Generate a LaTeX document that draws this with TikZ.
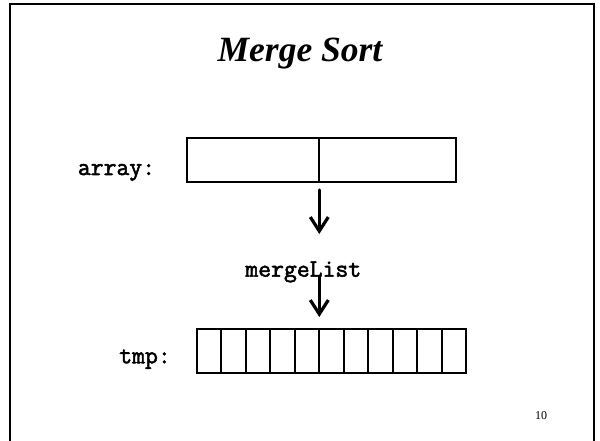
\documentclass[tikz,border=0pt]{standalone}
\usepackage{fontspec}
\setmainfont{Liberation Serif}
\newfontfamily\codefont[FakeBold=2.2]{Latin Modern Mono}
\usetikzlibrary{arrows.meta}
\tikzset{
  cell/.style={draw, line width=2pt, minimum height=44pt, inner sep=0pt, outer sep=0pt},
  lcell/.style={cell, minimum width=132.6pt},
  rcell/.style={cell, minimum width=136.7pt},
  smallcell/.style={cell, minimum width=24.48pt},
  code/.style={font=\codefont\fontsize{25}{28}\selectfont, inner sep=0pt, anchor=base},
  flow/.style={line width=3.2pt, -{Straight Barb[length=14pt,width=18pt]}, line cap=round, line join=round},
}
\begin{document}
\begin{tikzpicture}[x=1pt,y=-1pt]
\useasboundingbox (0,0) rectangle (600,441);
\clip (0,0) rectangle (600,441);
\draw[line width=2.5pt] (10,450) -- (10,4) -- (594,4) -- (594,450);
\node (title) at (300,62) [anchor=base, inner sep=0pt, font=\fontsize{35.5}{40}\selectfont\bfseries\itshape] {Merge Sort};
% array
\node[lcell] (arrL) at (253.0,160.3) {};
\node[rcell, anchor=west] (arrR) at (arrL.east) {};
\node[code] (arrlbl) at (116.5,175) {array:};
% arrow 1
\coordinate (a1s) at (319.3,190);
\coordinate (a1e) at (319.3,234);
\draw[flow] (a1s) -- (a1e);
% mergeList
\node[code] (ml) at (303.3,276.7) {mergeList};
\coordinate (a2s) at (319.3,276);
\coordinate (a2e) at (319.3,317);
\draw[flow] (a2s) -- (a2e);
% tmp
\node[smallcell] (t1) at (208.94,350.5) {};
\foreach \i [count=\p from 1] in {2,...,11} {
  \node[smallcell, anchor=west] (t\i) at (t\p.east) {};
}
\node[code] (tmplbl) at (145,363.3) {tmp:};
\node (pg) at (541,419) [anchor=base, inner sep=0pt, font=\fontsize{12}{14}\selectfont] {10};
\end{tikzpicture}
\end{document}
